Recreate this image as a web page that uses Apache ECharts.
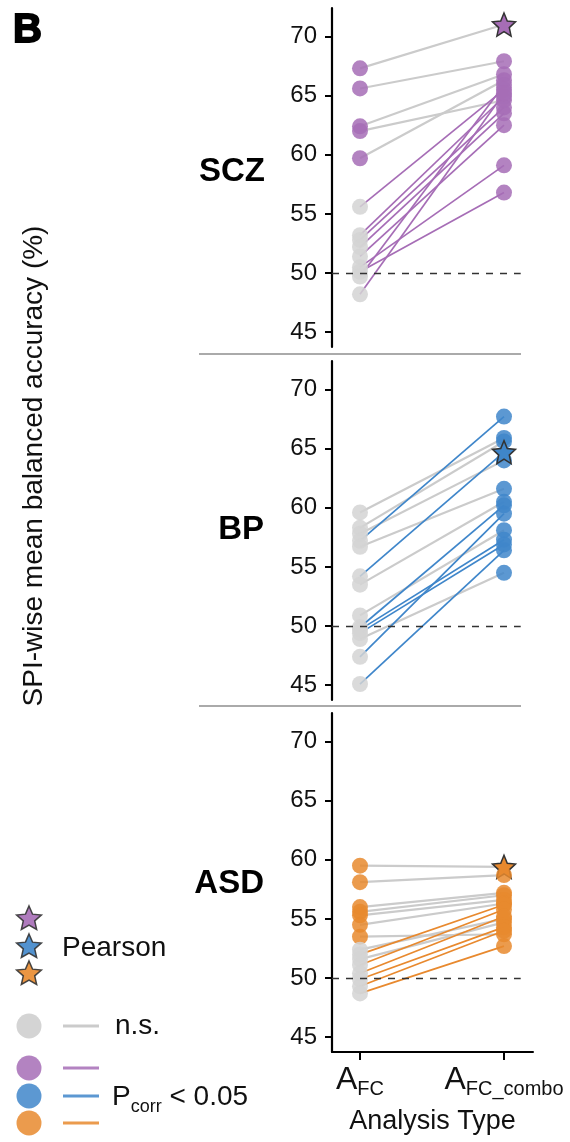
<!DOCTYPE html>
<html>
<head>
<meta charset="utf-8">
<script src="https://cdn.jsdelivr.net/npm/echarts@6/dist/echarts.min.js"></script>
<style>
  html, body { margin: 0; padding: 0; background: #fff; }
  #chart { width: 570px; height: 1142px; }
</style>
</head>
<body>
<div id="chart"></div>
<script>
// 数据
const groups = ['SCZ', 'BP', 'ASD'];
const xTicks = [0, 1];
const xLabels = ['FC', 'FC_combo'];
const yTicks = [45, 50, 55, 60, 65, 70];
const chance = 50;

// SCZ
const sczFC      = [67.3, 65.6, 62.4, 62.0, 59.7, 55.6, 53.2, 52.8, 52.2, 51.4, 50.5, 50.1, 49.7, 48.2];
const sczCombo   = [71.0, 67.9, 66.8, 64.6, 66.3, 65.5, 64.9, 64.0, 63.5, 62.5, 59.1, 56.8, 65.9, 65.2];
const sczSigFC   = [1, 1, 1, 1, 1, 0, 0, 0, 0, 0, 0, 0, 0, 0];
const sczSigLine = [0, 0, 0, 0, 0, 1, 1, 1, 1, 1, 1, 1, 1, 1];
const sczStar = 0;

// BP
const bpFC      = [59.6, 58.3, 57.8, 57.2, 56.7, 54.2, 53.5, 50.9, 49.9, 49.7, 49.4, 48.9, 47.4, 45.1];
const bpCombo   = [65.9, 65.6, 64.0, 67.7, 61.6, 64.7, 60.5, 58.1, 60.2, 57.3, 56.9, 54.5, 59.5, 56.4];
const bpSigFC   = [0, 0, 0, 0, 0, 0, 0, 0, 0, 0, 0, 0, 0, 0];
const bpSigLine = [0, 0, 0, 1, 0, 1, 0, 0, 1, 1, 1, 0, 1, 1];
const bpStar = 5;

// ASD
const asdFC      = [59.5, 58.1, 56.0, 55.6, 55.3, 54.5, 53.5, 52.4, 52.0, 51.6, 51.1, 50.4, 49.9, 49.3, 48.7];
const asdCombo   = [59.4, 58.7, 57.2, 57.0, 56.6, 56.3, 53.7, 55.0, 56.2, 54.7, 55.8, 55.2, 54.3, 54.0, 52.7];
const asdSigFC   = [1, 1, 1, 1, 1, 1, 1, 0, 0, 0, 0, 0, 0, 0, 0];
const asdSigLine = [0, 0, 0, 0, 0, 0, 0, 0, 1, 0, 1, 1, 1, 1, 1];
const asdStar = 0;

const colors = ['#a66db6', '#3f86ca', '#e8892e'];
const grayDot = '#d4d4d4';
const grayLine = '#cbcbcb';
const font = 'Liberation Sans, Arial, sans-serif';

const panels = [
  { fc: sczFC, combo: sczCombo, sigFC: sczSigFC, sigLine: sczSigLine, star: sczStar },
  { fc: bpFC, combo: bpCombo, sigFC: bpSigFC, sigLine: bpSigLine, star: bpStar },
  { fc: asdFC, combo: asdCombo, sigFC: asdSigFC, sigLine: asdSigLine, star: asdStar }
];

// 五角星路径
function starPts(cx, cy, R, r) {
  let pts = [];
  for (let i = 0; i < 10; i++) {
    let a = -Math.PI / 2 + i * Math.PI / 5;
    let rr = i % 2 === 0 ? R : r;
    pts.push([cx + rr * Math.cos(a), cy + rr * Math.sin(a)]);
  }
  return pts;
}
const starPath = 'path://M' + starPts(0, 0, 10, 4.6).map(p => p[0].toFixed(2) + ',' + p[1].toFixed(2)).join('L') + 'Z';

const xMin = -0.1944, xMax = 1.2014;
const yMin = 43.75, yMax = 72.4;
const gridTops = [8, 361, 713];
const gridH = 339;

let grids = [], xAxes = [], yAxes = [], series = [];

panels.forEach((p, i) => {
  let col = colors[i];
  let last = i === 2;
  grids.push({ left: 332, width: 201, top: gridTops[i], height: gridH });
  xAxes.push({
    type: 'value', gridIndex: i, min: xMin, max: xMax,
    splitLine: { show: false },
    axisLine: { show: last, onZero: false, lineStyle: { color: '#000', width: 2 } },
    axisTick: { show: last, customValues: xTicks, length: 8, lineStyle: { color: '#000', width: 2 } },
    axisLabel: {
      show: last, customValues: xTicks, margin: 12,
      formatter: v => '{a|A}{s|' + xLabels[Math.round(v)] + '}',
      rich: {
        a: { fontSize: 32, lineHeight: 32, fontFamily: font, color: '#111', verticalAlign: 'top' },
        s: { fontSize: 20, lineHeight: 20, fontFamily: font, color: '#111', verticalAlign: 'top', padding: [15, 0, 0, 0] }
      }
    },
    name: last ? 'Analysis Type' : '',
    nameLocation: 'middle', nameGap: 56,
    nameTextStyle: { fontSize: 27, fontFamily: font, color: '#111' }
  });
  yAxes.push({
    type: 'value', gridIndex: i, min: yMin, max: yMax,
    splitLine: { show: false },
    axisLine: { show: true, onZero: false, lineStyle: { color: '#000', width: 2.2 } },
    axisTick: { show: true, customValues: yTicks, length: 7, lineStyle: { color: '#000', width: 2 } },
    axisLabel: { customValues: yTicks, margin: 15, fontSize: 24, fontFamily: font, color: '#111' }
  });

  let grayData = [], colData = [], leftData = [], rightData = [];
  p.fc.forEach((v, k) => {
    let seg = { coords: [[0, v], [1, p.combo[k]]] };
    (p.sigLine[k] ? colData : grayData).push(seg);
    leftData.push({ value: [0, v], itemStyle: { color: p.sigFC[k] ? col : grayDot } });
    if (k === p.star) {
      rightData.push({ value: [1, p.combo[k]], symbol: starPath, symbolSize: 23,
        itemStyle: { color: col, borderColor: '#333', borderWidth: 1.5, opacity: 1 }, z: 10 });
    } else {
      rightData.push({ value: [1, p.combo[k]], itemStyle: { color: col } });
    }
  });

  series.push({
    type: 'lines', coordinateSystem: 'cartesian2d', xAxisIndex: i, yAxisIndex: i,
    data: grayData, silent: true,
    lineStyle: { color: grayLine, width: 2.2, opacity: 1, curveness: 0 },
    markLine: {
      silent: true, symbol: 'none', label: { show: false },
      lineStyle: { color: '#333', width: 1.3, type: [7, 7] },
      data: [[{ coord: [xMin, chance] }, { coord: [1.116, chance] }]]
    }
  });
  series.push({
    type: 'lines', coordinateSystem: 'cartesian2d', xAxisIndex: i, yAxisIndex: i,
    data: colData, silent: true,
    lineStyle: { color: col, width: 1.7, opacity: 1, curveness: 0 }
  });
  series.push({
    type: 'scatter', xAxisIndex: i, yAxisIndex: i, data: leftData,
    symbolSize: 16, itemStyle: { opacity: 0.85 }
  });
  series.push({
    type: 'scatter', xAxisIndex: i, yAxisIndex: i, data: rightData,
    symbolSize: 16, itemStyle: { opacity: 0.85 }
  });
});

// 图例与标注
const legendY = [918, 946, 973];
const dotY = [1026, 1068, 1096, 1123];
let graphic = [
  { type: 'text', x: 13, y: 11, style: { text: 'B', fontSize: 40, fontWeight: 'bold', fontFamily: font, fill: '#000', stroke: '#000', lineWidth: 1.8 } },
  { type: 'text', x: 34, y: 466, rotation: Math.PI / 2,
    style: { text: 'SPI-wise mean balanced accuracy (%)', fontSize: 28, fontFamily: font, fill: '#111', align: 'center', verticalAlign: 'middle' } },
  { type: 'text', x: 265, y: 172, style: { text: 'SCZ', fontSize: 33, fontWeight: 'bold', fontFamily: font, fill: '#000', align: 'right', verticalAlign: 'middle' } },
  { type: 'text', x: 264, y: 530, style: { text: 'BP', fontSize: 33, fontWeight: 'bold', fontFamily: font, fill: '#000', align: 'right', verticalAlign: 'middle' } },
  { type: 'text', x: 264, y: 884, style: { text: 'ASD', fontSize: 33, fontWeight: 'bold', fontFamily: font, fill: '#000', align: 'right', verticalAlign: 'middle' } },
  { type: 'line', shape: { x1: 199, y1: 354, x2: 521, y2: 354 }, style: { stroke: '#aaa', lineWidth: 2 } },
  { type: 'line', shape: { x1: 199, y1: 706, x2: 521, y2: 706 }, style: { stroke: '#aaa', lineWidth: 2 } },
  { type: 'text', x: 62, y: 948, style: { text: 'Pearson', fontSize: 28, fontFamily: font, fill: '#111', verticalAlign: 'middle' } },
  { type: 'circle', shape: { cx: 29, cy: dotY[0], r: 12.5 }, style: { fill: grayDot } },
  { type: 'line', shape: { x1: 63, y1: dotY[0], x2: 99, y2: dotY[0] }, style: { stroke: grayLine, lineWidth: 3 } },
  { type: 'text', x: 115, y: dotY[0], style: { text: 'n.s.', fontSize: 28, fontFamily: font, fill: '#111', verticalAlign: 'middle' } },
  { type: 'text', x: 112, y: dotY[2] + 1, style: {
      text: '{p|P}{s|corr}{p| < 0.05}', fontFamily: font, fill: '#111', verticalAlign: 'middle',
      rich: {
        p: { fontSize: 28, lineHeight: 28, fontFamily: font, fill: '#111', verticalAlign: 'top' },
        s: { fontSize: 18, lineHeight: 18, fontFamily: font, fill: '#111', verticalAlign: 'top', padding: [15, 0, 0, 0] }
      } } }
];
colors.forEach((c, i) => {
  graphic.push({ type: 'polygon', shape: { points: starPts(29, legendY[i] + 1, 13, 6) },
    style: { fill: c, stroke: '#333', lineWidth: 1.5, opacity: 0.9 } });
  graphic.push({ type: 'circle', shape: { cx: 29, cy: dotY[i + 1], r: 12.5 }, style: { fill: c, opacity: 0.85 } });
  graphic.push({ type: 'line', shape: { x1: 63, y1: dotY[i + 1], x2: 99, y2: dotY[i + 1] }, style: { stroke: c, lineWidth: 3, opacity: 0.85 } });
});

const chart = echarts.init(document.getElementById('chart'));
chart.setOption({
  animation: false,
  backgroundColor: '#fff',
  grid: grids,
  xAxis: xAxes,
  yAxis: yAxes,
  series: series,
  graphic: graphic
});
</script>
</body>
</html>
